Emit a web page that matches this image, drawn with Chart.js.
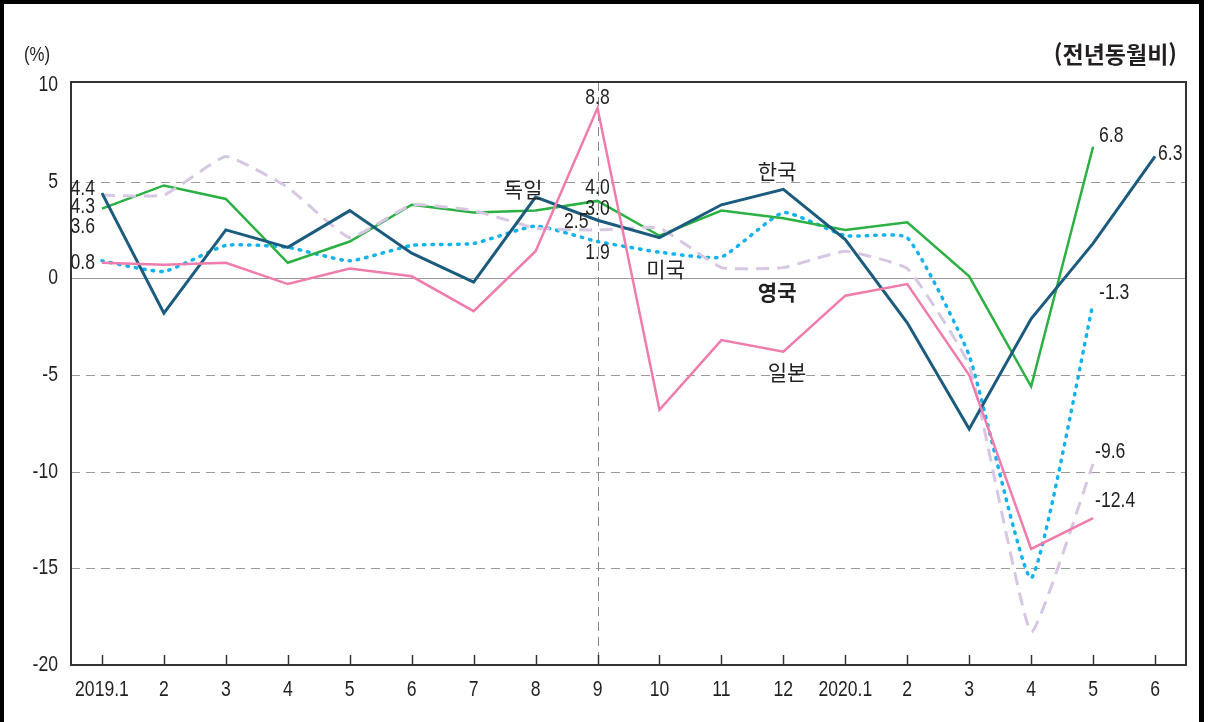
<!DOCTYPE html>
<html lang="ko">
  <head>
    <meta charset="UTF-8" />
    <title>전년동월비</title>
    <script src="https://cdn.jsdelivr.net/npm/chart.js"></script>
    <style>
      body {
        margin: 0;
        background: #fff;
      }
      #wrap {
        position: relative;
        width: 1208px;
        height: 722px;
      }
    </style>
  </head>
  <body>
    <div id="wrap">
      <canvas id="myChart" width="1208" height="722"></canvas>
    </div>

    <script>
      const months = [
        "2019.1", "2", "3", "4", "5", "6", "7", "8", "9",
        "10", "11", "12", "2020.1", "2", "3", "4", "5", "6",
      ];
      const yTicks = [10, 5, 0, -5, -10, -15, -20];

      // 한국
      const korea = [4.4, -1.8, 2.5, 1.6, 3.5, 1.3, -0.2, 4.2, 3.0, 2.1, 3.8, 4.6, 2.0, -2.3, -7.8, -2.1, 1.8, 6.3];
      // 독일
      const germany = [3.6, 4.8, 4.1, 0.8, 1.9, 3.8, 3.4, 3.5, 4.0, 2.2, 3.5, 3.1, 2.5, 2.9, 0.1, -5.6, 6.8, null];
      // 미국
      const usa = [0.9, 0.35, 1.7, 1.6, 0.9, 1.7, 1.8, 2.7, 1.9, 1.35, 1.1, 3.4, 2.2, 2.1, -4.0, -15.5, -1.3, null];
      // 영국
      const uk = [4.3, 4.3, 6.3, 4.7, 2.1, 3.8, 3.5, 2.6, 2.5, 2.6, 0.55, 0.55, 1.4, 0.5, -4.5, -18.3, -9.6, null];
      // 일본
      const japan = [0.8, 0.7, 0.8, -0.3, 0.5, 0.1, -1.7, 1.4, 8.8, -6.8, -3.2, -3.8, -0.9, -0.3, -5.0, -14.0, -12.4, null];

      const NUM_FONT = "'Liberation Sans', Arial, sans-serif";
      const KR_FONT = "'Noto Sans CJK KR', sans-serif";
      const NARROW = 0.8; // horizontal squeeze to mimic a narrow face

      // value labels: [series, index, dx, dy, align]
      const valueLabels = [
        [korea, 0, -7, -4, "right"],
        [uk, 0, -7, 12, "right"],
        [germany, 0, -7, 18, "right"],
        [japan, 0, -7, 0, "right"],
        [japan, 8, 0, -10, "center"],
        [germany, 8, 0, -13, "center"],
        [korea, 8, 0, -11, "center"],
        [uk, 8, -9, -8, "right"],
        [usa, 8, 0, 11, "center"],
        [germany, 16, 6, -11, "left"],
        [korea, 17, 3, -3, "left"],
        [usa, 16, 6, -10, "left"],
        [uk, 16, 2, -12, "left"],
        [japan, 16, 2, -17, "left"],
      ];

      // country names placed in data coordinates: [text, index, value, bold]
      const nameLabels = [
        ["한국", 10.9, 5.55, false],
        ["독일", 6.8, 4.6, false],
        ["미국", 9.1, 0.5, false],
        ["영국", 10.9, -0.7, true],
        ["일본", 11.06, -4.85, false],
      ];

      function narrowText(ctx, text, x, y, align) {
        ctx.save();
        ctx.translate(x, y);
        ctx.scale(NARROW, 1);
        ctx.textAlign = align;
        ctx.fillText(text, 0, 0);
        ctx.restore();
      }

      const framePlugin = {
        id: "frame",
        beforeDatasetsDraw(chart) {
          const { ctx, chartArea: a, scales } = chart;
          const y = scales.y;
          const x = scales.x;
          ctx.save();
          ctx.lineWidth = 1;
          ctx.strokeStyle = "#9a9a9a";
          [5, -5, -10, -15].forEach((v) => {
            const py = Math.round(y.getPixelForValue(v)) + 0.5;
            ctx.setLineDash([9, 6]);
            ctx.beginPath();
            ctx.moveTo(a.left, py);
            ctx.lineTo(a.right, py);
            ctx.stroke();
          });
          ctx.setLineDash([]);
          const zy = Math.round(y.getPixelForValue(0)) + 0.5;
          ctx.beginPath();
          ctx.moveTo(a.left, zy);
          ctx.lineTo(a.right, zy);
          ctx.stroke();
          // vertical dashed line at 2019.9
          ctx.strokeStyle = "#888";
          const vx = Math.round(x.getPixelForValue(8)) + 0.5;
          ctx.setLineDash([9, 6]);
          ctx.beginPath();
          ctx.moveTo(vx, a.top);
          ctx.lineTo(vx, a.bottom);
          ctx.stroke();
          ctx.restore();
        },
        afterDatasetsDraw(chart) {
          const { ctx, chartArea: a, scales } = chart;
          const x = scales.x;
          const y = scales.y;
          ctx.save();
          // plot frame
          ctx.strokeStyle = "#333";
          ctx.lineWidth = 2;
          ctx.strokeRect(a.left, a.top, a.right - a.left, a.bottom - a.top);
          // inner tick marks
          ctx.lineWidth = 1.5;
          months.forEach((m, i) => {
            const px = Math.round(x.getPixelForValue(i)) + 0.5;
            ctx.beginPath();
            ctx.moveTo(px, a.bottom);
            ctx.lineTo(px, a.bottom - 10);
            ctx.stroke();
          });

          ctx.fillStyle = "#231f20";
          ctx.textBaseline = "middle";

          // axis labels
          ctx.font = "22px " + NUM_FONT;
          months.forEach((m, i) => {
            narrowText(ctx, m, x.getPixelForValue(i), a.bottom + 25, "center");
          });
          yTicks.forEach((v) => {
            narrowText(ctx, String(v), a.left - 13, y.getPixelForValue(v), "right");
          });

          // value labels
          ctx.font = "22px " + NUM_FONT;
          valueLabels.forEach(([series, i, dx, dy, align]) => {
            const v = series[i];
            narrowText(ctx, v.toFixed(1), x.getPixelForValue(i) + dx, y.getPixelForValue(v) + dy, align);
          });

          // country names
          ctx.textAlign = "center";
          nameLabels.forEach(([t, i, v, bold]) => {
            ctx.font = (bold ? "bold " : "") + "21px " + KR_FONT;
            ctx.fillText(t, x.getPixelForValue(i), y.getPixelForValue(v));
          });

          // unit and note
          ctx.font = "21px " + NUM_FONT;
          narrowText(ctx, "(%)", 24, 55, "left");
          ctx.font = "bold 23px " + KR_FONT;
          ctx.textAlign = "right";
          ctx.fillText("(전년동월비)", 1177, 54);

          // outer border
          ctx.fillStyle = "#000";
          ctx.fillRect(0, 0, 4, 722);
          ctx.fillRect(0, 0, 1204, 4);
          ctx.fillRect(1199, 0, 5, 722);
          ctx.restore();
        },
      };

      const ctx = document.getElementById("myChart").getContext("2d");
      const myChart = new Chart(ctx, {
        type: "line",
        data: {
          labels: months,
          datasets: [
            {
              label: "일본",
              data: japan,
              borderColor: "#f07cad",
              borderWidth: 2.5,
              tension: 0,
            },
            {
              label: "한국",
              data: korea,
              borderColor: "#1b5c7e",
              borderWidth: 3,
              tension: 0,
            },
            {
              label: "영국",
              data: uk,
              borderColor: "#d7c7e2",
              borderWidth: 3,
              borderDash: [13, 8],
              tension: 0.12,
            },
            {
              label: "독일",
              data: germany,
              borderColor: "#2bb043",
              borderWidth: 2.5,
              tension: 0,
            },
            {
              label: "미국",
              data: usa,
              borderColor: "#12b2ec",
              borderWidth: 3.5,
              borderDash: [1.5, 7],
              borderCapStyle: "round",
              tension: 0.15,
            },
          ],
        },
        options: {
          responsive: false,
          animation: false,
          spanGaps: false,
          layout: { padding: { left: 0, top: 82, right: 22, bottom: 0 } },
          elements: { point: { radius: 0 } },
          plugins: {
            legend: { display: false },
            tooltip: { enabled: false },
          },
          scales: {
            x: {
              offset: true,
              grid: { display: false, drawTicks: false },
              border: { display: false },
              ticks: { display: false, autoSkip: false },
              afterFit(scale) {
                scale.height = 57;
              },
            },
            y: {
              min: -20,
              max: 10.15,
              grid: { display: false, drawTicks: false },
              border: { display: false },
              afterBuildTicks(scale) {
                scale.ticks = yTicks.map((v) => ({ value: v }));
              },
              ticks: { display: false },
              afterFit(scale) {
                scale.width = 71;
              },
            },
          },
        },
        plugins: [framePlugin],
      });
    </script>
  </body>
</html>
